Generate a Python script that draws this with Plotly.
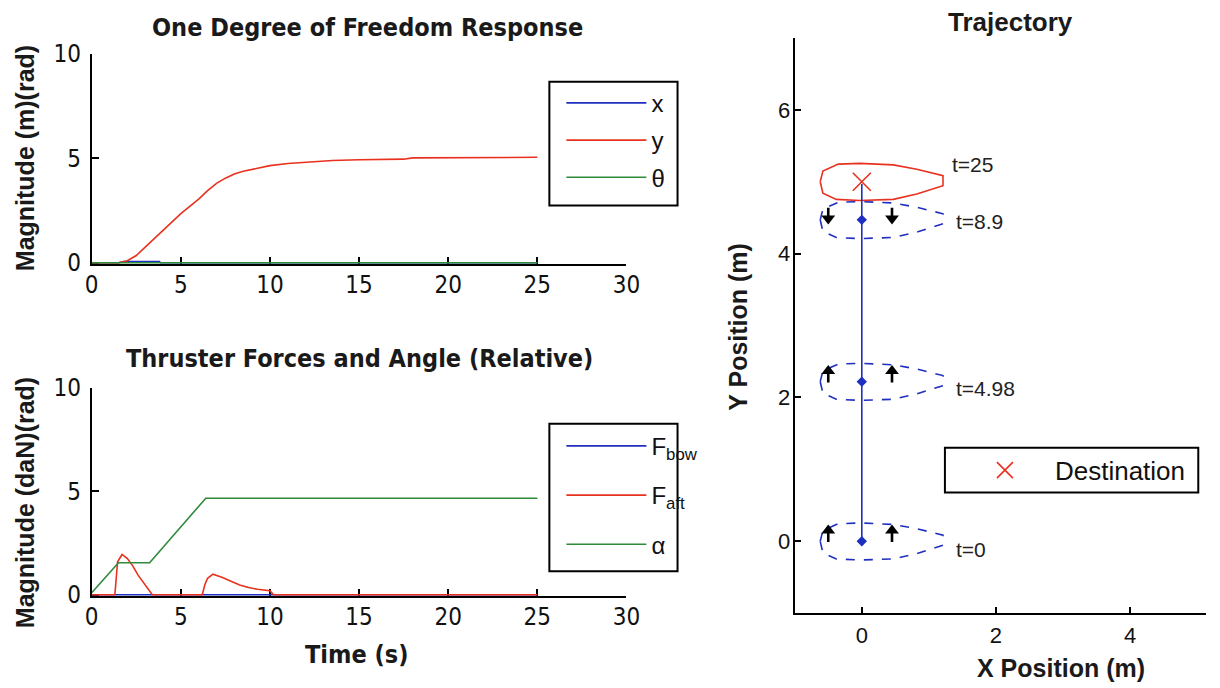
import plotly.graph_objects as go

# ---------------- data ----------------
# One Degree of Freedom Response
t_x = [0, 1.5, 1.8, 3.8, 3.85, 25]
x_pos = [0, 0, 0.06, 0.06, 0, 0]
t_y = [0, 1.5, 2, 2.5, 3, 3.5, 4, 4.5, 5, 5.5, 6, 6.5, 7, 7.5, 8, 8.5, 9, 10, 11, 12, 13.5, 15, 17.5, 18, 20, 25]
y_pos = [0, 0, 0.1, 0.35, 0.75, 1.15, 1.55, 1.95, 2.35, 2.7, 3.05, 3.45, 3.8, 4.05, 4.25, 4.38, 4.48, 4.65, 4.75, 4.82, 4.9, 4.93, 4.96, 5.02, 5.03, 5.05]
t_theta = [0, 25]
theta = [0, 0]

# Thruster Forces and Angle (Relative)
t_fbow = [0, 25]
f_bow = [0, 0]
t_faft = [0, 1.3, 1.45, 1.7, 2.0, 2.3, 2.6, 3.0, 3.3, 3.4, 6.2, 6.35, 6.5, 6.8, 7.3, 7.8, 8.3, 8.8, 9.3, 10.0, 10.2, 25]
f_aft = [0, 0, 1.6, 1.95, 1.75, 1.4, 0.95, 0.45, 0.1, 0, 0, 0.5, 0.8, 1.0, 0.85, 0.65, 0.48, 0.35, 0.27, 0.2, 0, 0]
t_alpha = [0, 1.5, 3.25, 6.4, 25]
alpha = [0.1, 1.55, 1.55, 4.67, 4.67]

# Trajectory
traj_x = [0, 0]
traj_y = [0, 4.97]
snap_labels = ["t=0", "t=4.98", "t=8.9", "t=25"]
snap_x = [0, 0, 0, 0]
snap_y = [0, 2.22, 4.47, 5.0]
label_x = [1.38, 1.38, 1.38, 1.31]
label_y = [-0.12, 2.12, 4.45, 5.24]
hull_dx = [-0.62, -0.58, -0.35, -0.03, 0.47, 0.82, 1.21, 1.21, 0.82, 0.47, -0.03, -0.38, -0.58, -0.62]
hull_dy = [0.0, 0.15, 0.245, 0.255, 0.235, 0.175, 0.085, -0.055, -0.17, -0.245, -0.26, -0.245, -0.16, 0.0]
thruster_dx = [-0.5, 0.45]
thruster_dir = [1, 1, -1]   # arrow direction for the three dashed snapshots
dest_x = [0]
dest_y = [5.0]

# ---------------- style ----------------
BLUE = "#1f2fbf"
RED = "#e8311f"
GREEN = "#2e8b3a"
NARROW = "DejaVu Sans Condensed, Liberation Sans Narrow, Liberation Sans"
SANS = "Liberation Sans"
W, H = 1220, 688
# the captured page shows the figure slightly inset; map target pixel positions accordingly
SX, OX = 0.9814, 8.4
SY, OY = 0.9636, 13.0

def px(x):
    return ((x - OX) / SX) / W

def py(y):
    return 1 - ((y - OY) / SY) / H

fig = go.Figure()

# top-left
fig.add_trace(go.Scatter(x=t_x, y=x_pos, mode="lines", name="x", line=dict(color=BLUE, width=1.6),
                         xaxis="x", yaxis="y", legend="legend", legendgroup="a"))
fig.add_trace(go.Scatter(x=t_y, y=y_pos, mode="lines", name="y", line=dict(color=RED, width=1.6),
                         xaxis="x", yaxis="y", legend="legend", legendgroup="b"))
fig.add_trace(go.Scatter(x=t_theta, y=theta, mode="lines", name="θ", line=dict(color=GREEN, width=1.6),
                         xaxis="x", yaxis="y", legend="legend", legendgroup="c"))

# bottom-left
fig.add_trace(go.Scatter(x=t_fbow, y=f_bow, mode="lines", name="F<sub>bow</sub>", line=dict(color=BLUE, width=1.6),
                         xaxis="x2", yaxis="y2", legend="legend2", legendgroup="d"))
fig.add_trace(go.Scatter(x=t_faft, y=f_aft, mode="lines", name="F<sub>aft</sub>", line=dict(color=RED, width=1.6),
                         xaxis="x2", yaxis="y2", legend="legend2", legendgroup="e"))
fig.add_trace(go.Scatter(x=t_alpha, y=alpha, mode="lines", name="α", line=dict(color=GREEN, width=1.6),
                         xaxis="x2", yaxis="y2", legend="legend2", legendgroup="f"))

# right: hull outlines
for i in range(len(snap_y)):
    final = i == len(snap_y) - 1
    hx = [snap_x[i] + d for d in hull_dx]
    hy = [snap_y[i] + d for d in hull_dy]
    fig.add_trace(go.Scatter(x=hx, y=hy, mode="lines", showlegend=False, hoverinfo="skip",
                             line=dict(color=RED if final else BLUE, width=1.6,
                                       dash="solid" if final else "dash"),
                             xaxis="x3", yaxis="y3"))

# trajectory line and snapshot markers
fig.add_trace(go.Scatter(x=traj_x, y=traj_y, mode="lines", showlegend=False,
                         line=dict(color=BLUE, width=1.6), xaxis="x3", yaxis="y3"))
fig.add_trace(go.Scatter(x=snap_x[:-1], y=snap_y[:-1], mode="markers", showlegend=False,
                         marker=dict(symbol="diamond", size=8, color=BLUE), xaxis="x3", yaxis="y3"))

# thruster arrows
for i, d in enumerate(thruster_dir):
    ax = [snap_x[i] + dx for dx in thruster_dx]
    if d > 0:
        ay = [snap_y[i] + 0.15] * 2
        err = dict(type="data", symmetric=False, array=[0, 0], arrayminus=[0.16, 0.16],
                   color="black", thickness=2.6, width=0)
        sym = "triangle-up"
    else:
        ay = [snap_y[i] + 0.02] * 2
        err = dict(type="data", symmetric=False, array=[0.15, 0.15], arrayminus=[0, 0],
                   color="black", thickness=2.6, width=0)
        sym = "triangle-down"
    fig.add_trace(go.Scatter(x=ax, y=ay, mode="markers", showlegend=False, error_y=err,
                             marker=dict(symbol=sym, size=12, color="black"),
                             xaxis="x3", yaxis="y3"))

# destination
fig.add_trace(go.Scatter(x=dest_x, y=dest_y, mode="markers", name="Destination",
                         marker=dict(symbol="x-thin", size=18, line=dict(color=RED, width=1.6), color=RED),
                         xaxis="x3", yaxis="y3", legend="legend3"))

# ---------------- axes ----------------
left_dom = [px(93), px(627)]
common = dict(showline=True, linecolor="black", linewidth=2, mirror=False, showgrid=False, zeroline=False,
              ticks="inside", ticklen=7, tickwidth=2, tickcolor="black", layer="below traces")
xl = dict(common, range=[0, 30], tickvals=[0, 5, 10, 15, 20, 25, 30], domain=left_dom,
          tickfont=dict(family=NARROW, size=24, color="#111111"), ticklabelstandoff=-2)
yl = dict(common, range=[-0.07, 10], tickvals=[0, 5, 10],
          tickfont=dict(family=NARROW, size=24, color="#111111"), ticklabelstandoff=4)

# right x axis: domain runs to the page edge; range end is the value reached there
x3_left_px, x3_zero_px, x3_unit_px = 795, 862, 67
x3_right_px = OX + SX * W
x3_range = [-1, (x3_right_px - x3_zero_px) / x3_unit_px]

leg_common = dict(xanchor="left", yanchor="top", bgcolor="rgba(0,0,0,0)", borderwidth=0)

fig.update_layout(
    width=W, height=H, margin=dict(l=0, r=0, t=0, b=0),
    plot_bgcolor="white", paper_bgcolor="white",
    xaxis=dict(xl, anchor="y"),
    yaxis=dict(yl, anchor="x", domain=[py(264), py(53)]),
    xaxis2=dict(xl, anchor="y2"),
    yaxis2=dict(yl, anchor="x2", domain=[py(597), py(388)]),
    xaxis3=dict(common, anchor="y3", range=x3_range, tickvals=[0, 2, 4], domain=[px(x3_left_px), 1.0],
                ticklen=6, tickfont=dict(family=SANS, size=22, color="#111111"), ticklabelstandoff=1),
    yaxis3=dict(common, anchor="x3", range=[-1, 7], tickvals=[0, 2, 4, 6], domain=[py(614), py(37)],
                ticklen=6, tickfont=dict(family=SANS, size=22, color="#111111"), ticklabelstandoff=-2),
    legend=dict(leg_common, x=px(562), y=py(80), font=dict(family=SANS, size=24, color="#111111"),
                itemwidth=80, traceorder="grouped", tracegroupgap=3),
    legend2=dict(leg_common, x=px(562), y=py(424), font=dict(family=SANS, size=24, color="#111111"),
                 itemwidth=80, traceorder="grouped", tracegroupgap=15),
    legend3=dict(leg_common, x=px(955), y=py(447), font=dict(family=SANS, size=26, color="#111111"),
                 itemwidth=90),
    showlegend=True,
)

# legend frames
for (x0, y0, x1, y1) in [(550, 81, 678, 205), (550, 424, 678, 572), (945, 448, 1198, 493)]:
    fig.add_shape(type="rect", xref="paper", yref="paper", x0=px(x0), x1=px(x1), y0=py(y1), y1=py(y0),
                  line=dict(color="black", width=2), fillcolor="white", layer="above")

# snapshot labels placed in data coordinates of the trajectory axes
for lx, ly, lt in zip(label_x, label_y, snap_labels):
    fig.add_annotation(x=lx, y=ly, xref="x3", yref="y3", text=lt, showarrow=False,
                       xanchor="left", yanchor="middle",
                       font=dict(family=SANS, size=21, color="#222222"))

ann = [
    dict(text="One Degree of Freedom Response", x=px(368), y=py(27), font=dict(family=NARROW, size=25, weight="bold")),
    dict(text="Thruster Forces and Angle (Relative)", x=px(360), y=py(359), font=dict(family=NARROW, size=25, weight="bold")),
    dict(text="Time (s)", x=px(358), y=py(655), font=dict(family=NARROW, size=25, weight="bold")),
    dict(text="Magnitude (m)(rad)", x=px(26), y=py(158), textangle=-90, font=dict(family=SANS, size=25, weight="bold")),
    dict(text="Magnitude (daN)(rad)", x=px(26), y=py(503), textangle=-90, font=dict(family=SANS, size=25, weight="bold")),
    dict(text="Trajectory", x=px(1010), y=py(21), font=dict(family=SANS, size=26, weight="bold")),
    dict(text="X Position (m)", x=px(1061), y=py(669), font=dict(family=SANS, size=25, weight="bold")),
    dict(text="Y Position (m)", x=px(738), y=py(327), textangle=-90, font=dict(family=SANS, size=25, weight="bold")),
]
for a in ann:
    a["font"]["color"] = "#1a1a1a"
    fig.add_annotation(xref="paper", yref="paper", showarrow=False, xanchor="center", yanchor="middle", **a)

fig.write_html("out.html")
